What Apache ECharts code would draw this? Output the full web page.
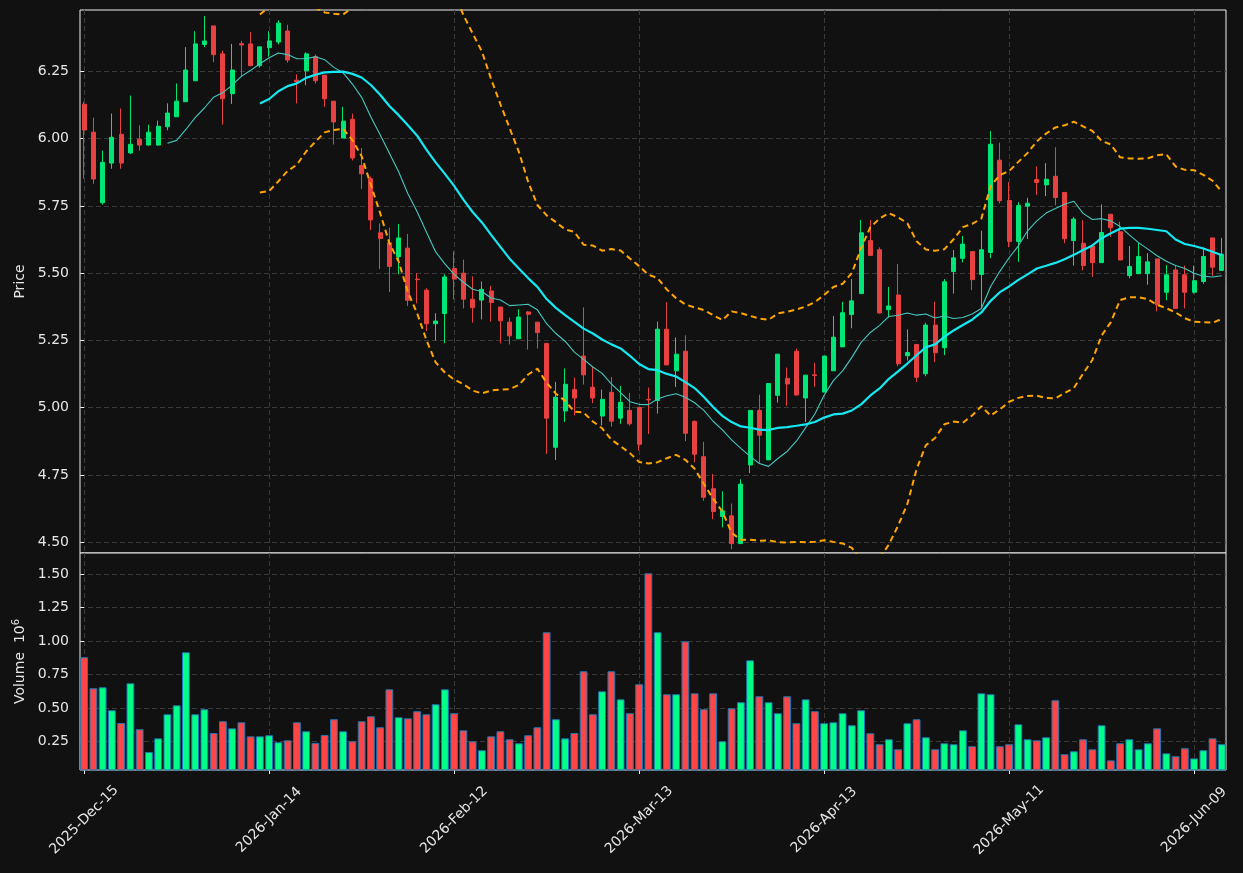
<!DOCTYPE html>
<html><head><meta charset="utf-8">
<script src="https://cdn.jsdelivr.net/npm/echarts@6/dist/echarts.min.js"></script>
<style>html,body{margin:0;padding:0;background:#111111;} #c{width:1243px;height:873px;}</style>
</head><body><div id="c"></div>
<script>
const dates = [
"2025-Dec-15","2025-Dec-16","2025-Dec-17","2025-Dec-18","2025-Dec-19","2025-Dec-22","2025-Dec-23","2025-Dec-24","2025-Dec-26","2025-Dec-29",
"2025-Dec-30","2025-Dec-31","2026-Jan-02","2026-Jan-05","2026-Jan-06","2026-Jan-07","2026-Jan-08","2026-Jan-09","2026-Jan-12","2026-Jan-13",
"2026-Jan-14","2026-Jan-15","2026-Jan-16","2026-Jan-20","2026-Jan-21","2026-Jan-22","2026-Jan-23","2026-Jan-26","2026-Jan-27","2026-Jan-28",
"2026-Jan-29","2026-Jan-30","2026-Feb-02","2026-Feb-03","2026-Feb-04","2026-Feb-05","2026-Feb-06","2026-Feb-09","2026-Feb-10","2026-Feb-11",
"2026-Feb-12","2026-Feb-13","2026-Feb-17","2026-Feb-18","2026-Feb-19","2026-Feb-20","2026-Feb-23","2026-Feb-24","2026-Feb-25","2026-Feb-26",
"2026-Feb-27","2026-Mar-02","2026-Mar-03","2026-Mar-04","2026-Mar-05","2026-Mar-06","2026-Mar-09","2026-Mar-10","2026-Mar-11","2026-Mar-12",
"2026-Mar-13","2026-Mar-16","2026-Mar-17","2026-Mar-18","2026-Mar-19","2026-Mar-20","2026-Mar-23","2026-Mar-24","2026-Mar-25","2026-Mar-26",
"2026-Mar-27","2026-Mar-30","2026-Mar-31","2026-Apr-01","2026-Apr-02","2026-Apr-06","2026-Apr-07","2026-Apr-08","2026-Apr-09","2026-Apr-10",
"2026-Apr-13","2026-Apr-14","2026-Apr-15","2026-Apr-16","2026-Apr-17","2026-Apr-20","2026-Apr-21","2026-Apr-22","2026-Apr-23","2026-Apr-24",
"2026-Apr-27","2026-Apr-28","2026-Apr-29","2026-Apr-30","2026-May-01","2026-May-04","2026-May-05","2026-May-06","2026-May-07","2026-May-08",
"2026-May-11","2026-May-12","2026-May-13","2026-May-14","2026-May-15","2026-May-18","2026-May-19","2026-May-20","2026-May-21","2026-May-22",
"2026-May-26","2026-May-27","2026-May-28","2026-May-29","2026-Jun-01","2026-Jun-02","2026-Jun-03","2026-Jun-04","2026-Jun-05","2026-Jun-08",
"2026-Jun-09","2026-Jun-10","2026-Jun-11","2026-Jun-12"];

const openP = [
6.128,6.024,5.762,5.909,6.016,5.947,5.998,5.976,5.976,6.044,
6.081,6.137,6.215,6.350,6.419,6.315,6.167,6.353,6.352,6.271,
6.338,6.359,6.400,6.217,6.252,6.305,6.236,6.139,6.002,6.072,
5.900,5.851,5.650,5.613,5.562,5.593,5.478,5.437,5.312,5.350,
5.517,5.500,5.403,5.400,5.434,5.374,5.318,5.256,5.356,5.318,
5.239,4.853,4.988,5.068,5.192,5.076,4.969,5.057,4.961,4.990,
5.001,5.031,5.027,5.292,5.137,5.210,4.949,4.818,4.699,4.596,
4.598,4.495,4.787,4.990,4.806,5.046,5.109,5.210,5.036,5.122,
5.058,5.137,5.226,5.346,5.424,5.621,5.587,5.364,5.419,5.193,
5.235,5.126,5.307,5.223,5.506,5.555,5.580,5.495,5.577,5.920,
5.770,5.618,5.749,5.848,5.828,5.860,5.800,5.621,5.611,5.601,
5.539,5.719,5.654,5.491,5.498,5.498,5.553,5.429,5.512,5.494,
5.429,5.469,5.631,5.510];
const highP = [
6.137,6.078,5.955,6.093,6.112,6.160,6.049,6.052,6.067,6.131,
6.205,6.340,6.399,6.456,6.419,6.327,6.352,6.363,6.396,6.341,
6.399,6.440,6.423,6.239,6.321,6.313,6.236,6.139,6.118,6.093,
5.965,5.859,5.685,5.669,5.683,5.646,5.500,5.444,5.351,5.496,
5.581,5.550,5.488,5.469,5.453,5.374,5.335,5.366,5.359,5.318,
5.239,5.096,5.146,5.112,5.373,5.152,5.067,5.114,5.081,5.055,
5.001,5.075,5.320,5.392,5.261,5.269,4.953,4.873,4.754,4.689,
4.644,4.734,4.990,5.048,5.090,5.199,5.149,5.220,5.121,5.167,
5.192,5.341,5.393,5.478,5.698,5.698,5.596,5.449,5.534,5.291,
5.235,5.316,5.394,5.478,5.586,5.638,5.580,5.658,6.028,5.985,
5.838,5.764,5.780,5.897,5.909,5.968,5.800,5.709,5.697,5.601,
5.755,5.719,5.691,5.601,5.613,5.574,5.553,5.530,5.528,5.528,
5.528,5.596,5.631,5.631];
const lowP = [
5.851,5.832,5.755,5.888,5.888,5.943,5.955,5.974,5.974,6.031,
6.081,6.137,6.215,6.340,6.284,6.052,6.129,6.230,6.271,6.264,
6.305,6.350,6.282,6.131,6.198,6.205,6.118,5.978,6.002,5.919,
5.813,5.660,5.515,5.430,5.496,5.378,5.388,5.285,5.250,5.240,
5.403,5.369,5.316,5.328,5.320,5.239,5.235,5.256,5.216,5.220,
4.828,4.806,4.947,4.971,5.086,5.017,4.934,4.930,4.940,4.934,
4.841,4.903,4.978,5.159,5.077,4.876,4.797,4.654,4.586,4.555,
4.474,4.495,4.757,4.795,4.806,5.019,5.007,5.047,4.947,5.077,
5.058,5.137,5.226,5.295,5.424,5.566,5.350,5.335,5.154,5.175,
5.095,5.117,5.170,5.195,5.424,5.540,5.437,5.372,5.556,5.759,
5.596,5.542,5.627,5.791,5.786,5.752,5.611,5.528,5.510,5.486,
5.539,5.635,5.549,5.481,5.498,5.457,5.358,5.399,5.369,5.369,
5.424,5.461,5.491,5.510];
const closeP = [
6.032,5.850,5.912,6.005,5.909,5.979,5.976,6.024,6.046,6.095,
6.139,6.255,6.352,6.363,6.312,6.148,6.255,6.348,6.271,6.341,
6.363,6.429,6.292,6.212,6.315,6.215,6.148,6.062,6.065,5.928,
5.869,5.698,5.629,5.525,5.631,5.399,5.476,5.312,5.322,5.486,
5.478,5.403,5.372,5.440,5.391,5.323,5.267,5.337,5.347,5.279,
4.961,5.039,5.087,5.036,5.122,5.036,5.031,4.950,5.020,4.940,
4.864,5.029,5.292,5.159,5.199,4.905,4.827,4.667,4.614,4.617,
4.495,4.716,4.990,4.898,5.090,5.199,5.088,5.047,5.121,5.120,
5.192,5.262,5.353,5.397,5.650,5.566,5.352,5.378,5.163,5.205,
5.113,5.307,5.204,5.468,5.557,5.608,5.476,5.587,5.979,5.769,
5.618,5.751,5.760,5.837,5.849,5.781,5.628,5.701,5.528,5.539,
5.651,5.669,5.549,5.525,5.562,5.542,5.382,5.494,5.369,5.429,
5.472,5.562,5.522,5.570];
// volume in millions of shares
const volume = [
0.879,0.647,0.654,0.482,0.387,0.684,0.340,0.170,0.272,0.452,
0.519,0.916,0.452,0.490,0.312,0.400,0.347,0.392,0.287,0.287,
0.295,0.243,0.257,0.392,0.325,0.238,0.297,0.415,0.325,0.250,
0.400,0.437,0.355,0.639,0.430,0.422,0.475,0.452,0.527,0.639,
0.460,0.332,0.250,0.183,0.287,0.325,0.265,0.235,0.295,0.355,
1.066,0.415,0.272,0.312,0.774,0.452,0.624,0.774,0.564,0.460,
0.677,1.507,1.066,0.602,0.602,0.998,0.609,0.490,0.609,0.250,
0.497,0.542,0.856,0.587,0.542,0.460,0.587,0.385,0.564,0.475,
0.385,0.392,0.460,0.370,0.482,0.310,0.228,0.265,0.190,0.385,
0.415,0.280,0.190,0.235,0.228,0.332,0.213,0.609,0.602,0.213,
0.228,0.377,0.265,0.257,0.280,0.557,0.153,0.175,0.265,0.190,
0.370,0.107,0.235,0.265,0.190,0.235,0.347,0.160,0.138,0.198,
0.122,0.183,0.272,0.228];

const xTickIdx = [0,20,40,60,80,100,120];
const priceTicks = [4.50,4.75,5.00,5.25,5.50,5.75,6.00,6.25];
const volTicks = [0.25,0.50,0.75,1.00,1.25,1.50];

// indicators derived from the close series (as the original chart does)
function sma(arr, n){
  const out=[];
  for(let i=n-1;i<arr.length;i++){ let s=0; for(let k=i-n+1;k<=i;k++) s+=arr[k]; out.push([i, s/n]); }
  return out;
}
function band(arr, n, mult){
  const out=[];
  for(let i=n-1;i<arr.length;i++){
    let s=0; for(let k=i-n+1;k<=i;k++) s+=arr[k]; const m=s/n;
    let v=0; for(let k=i-n+1;k<=i;k++) v+=(arr[k]-m)*(arr[k]-m);
    out.push([i, m + mult*Math.sqrt(v/n)]);
  }
  return out;
}

const UP='#00e676', DOWN='#e84142', VUP='#00ff88', VDOWN='#ff4545';
const candleData = dates.map((d,i)=>[i, openP[i], closeP[i], lowP[i], highP[i]]);
const volData = dates.map((d,i)=>({value:[i, volume[i]], itemStyle:{color: closeP[i]>=openP[i]?VUP:VDOWN}}));

const txt = '#e6e6e6';
const gridLine = {show:true, lineStyle:{color:'#3a3a3a', type:[5,3], width:1}};
const xCommon = {type:'value', min:-0.45, max:123.45, axisLine:{show:false}};

const chart = echarts.init(document.getElementById('c'), null, {renderer:'canvas'});
chart.setOption({
  animation:false,
  backgroundColor:'#111111',
  textStyle:{fontFamily:'DejaVu Sans'},
  grid:[
    {left:80, right:17, top:10, height:543, show:true, borderColor:'#f0f0f0', borderWidth:1, backgroundColor:'#111111'},
    {left:80, right:17, top:553, height:217, show:true, borderColor:'#f0f0f0', borderWidth:1, backgroundColor:'#111111'}
  ],
  xAxis:[
    Object.assign({}, xCommon, {gridIndex:0,
      axisTick:{show:false, customValues:xTickIdx},
      axisLabel:{show:false, customValues:xTickIdx},
      splitLine:gridLine}),
    Object.assign({}, xCommon, {gridIndex:1,
      axisTick:{show:true, customValues:xTickIdx, length:4, lineStyle:{color:'#f0f0f0'}},
      axisLabel:{show:true, customValues:xTickIdx, rotate:45, margin:50, align:'center', verticalAlign:'middle',
        color:txt, fontSize:14, fontFamily:'DejaVu Sans',
        formatter:(v)=>dates[Math.round(v)]},
      splitLine:gridLine})
  ],
  yAxis:[
    {type:'value', gridIndex:0, min:4.460, max:6.478, name:'Price', nameLocation:'middle', nameRotate:90, nameGap:51,
      nameTextStyle:{color:txt, fontSize:14, fontFamily:'DejaVu Sans'},
      axisLine:{show:false},
      axisTick:{show:true, customValues:priceTicks, length:4, lineStyle:{color:'#f0f0f0'}},
      axisLabel:{customValues:priceTicks, color:txt, fontSize:14, margin:11, fontFamily:'DejaVu Sans', formatter:(v)=>v.toFixed(2)},
      splitLine:gridLine},
    {type:'value', gridIndex:1, min:0.035, max:1.659, name:'{a|Volume  10}{b|6}', nameLocation:'middle', nameRotate:90, nameGap:51,
      nameTextStyle:{color:txt, fontSize:14, fontFamily:'DejaVu Sans',
        rich:{a:{color:txt, fontSize:14, fontFamily:'DejaVu Sans'}, b:{color:txt, fontSize:10, fontFamily:'DejaVu Sans', padding:[0,0,8,0]}}},
      axisLine:{show:false},
      axisTick:{show:true, customValues:volTicks, length:4, lineStyle:{color:'#f0f0f0'}},
      axisLabel:{customValues:volTicks, color:txt, fontSize:14, margin:11, fontFamily:'DejaVu Sans', formatter:(v)=>v.toFixed(2)},
      splitLine:gridLine}
  ],
  series:[
    {type:'candlestick', xAxisIndex:0, yAxisIndex:0, data:candleData, encode:{x:0, y:[1,2,3,4]},
      barWidth:4.5, z:2,
      itemStyle:{color:UP, color0:DOWN, borderColor:UP, borderColor0:DOWN, borderWidth:1}},
    {type:'line', name:'MA10', xAxisIndex:0, yAxisIndex:0, data:sma(closeP,10), showSymbol:false, symbol:'none', z:5,
      lineStyle:{color:'#45c8bf', width:1.1}},
    {type:'line', name:'MA20', xAxisIndex:0, yAxisIndex:0, data:sma(closeP,20), showSymbol:false, symbol:'none', z:5,
      lineStyle:{color:'#14e8f2', width:2.2}},
    {type:'line', name:'BB upper', xAxisIndex:0, yAxisIndex:0, data:band(closeP,20,2), showSymbol:false, symbol:'none', z:6,
      lineStyle:{color:'#ffa500', width:2, type:[6,4]}},
    {type:'line', name:'BB lower', xAxisIndex:0, yAxisIndex:0, data:band(closeP,20,-2), showSymbol:false, symbol:'none', z:6,
      lineStyle:{color:'#ffa500', width:2, type:[6,4]}},
    {type:'bar', xAxisIndex:1, yAxisIndex:1, data:volData, barWidth:7.8,
      itemStyle:{borderColor:'#1f77b4', borderWidth:1}}
  ]
});
</script>
</body></html>
